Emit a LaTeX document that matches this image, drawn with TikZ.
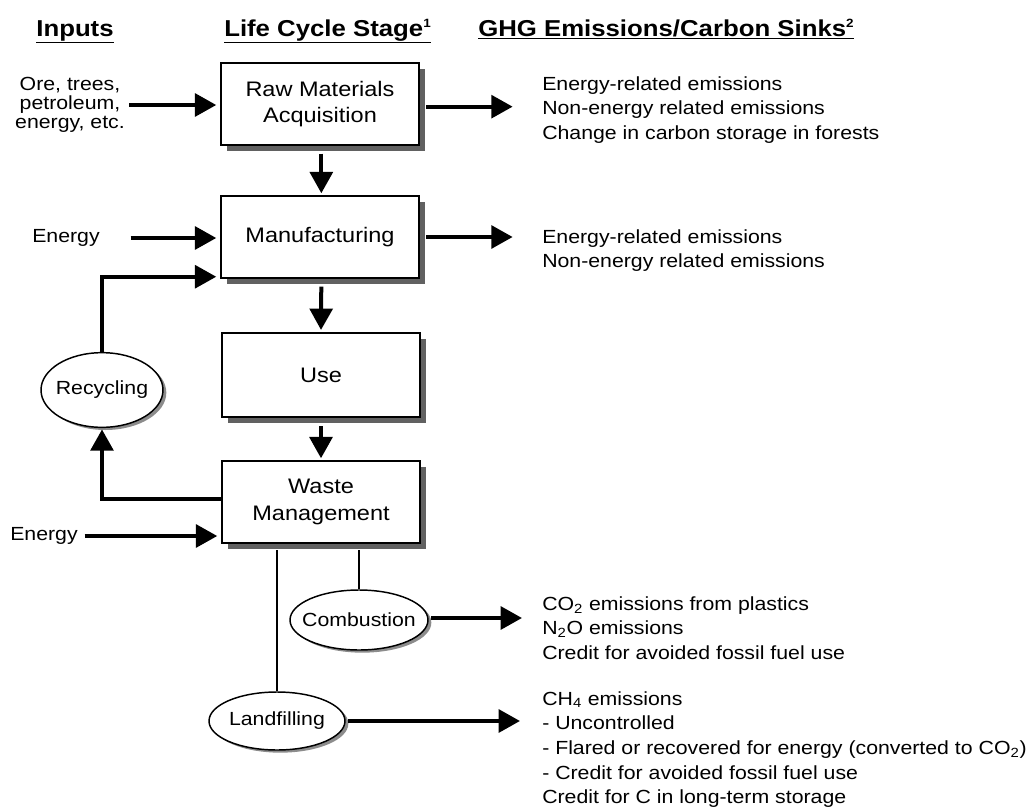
\documentclass[tikz,border=0pt]{standalone}
\usepackage{fontspec}
\setmainfont{Liberation Sans}[FakeStretch=1.12]
\usetikzlibrary{arrows.meta,shapes.geometric,shadows}
\tikzset{
  stagebox/.style={draw, line width=1.6pt, fill=white, minimum width=148pt, minimum height=61pt,
    inner sep=0pt, align=center, font=\fontsize{15.75}{20}\selectfont,
    drop shadow={shadow xshift=4.5pt, shadow yshift=-4.5pt, fill=black!62, opacity=1}},
  proc/.style={draw, ellipse, line width=1.1pt, fill=white, inner sep=0pt,
    drop shadow={shadow xshift=2.5pt, shadow yshift=-2pt, fill=black!45, opacity=1}},
  txt/.style={inner sep=0pt, font=\fontsize{14.25}{18.5}\selectfont, align=left},
  hdr/.style={inner sep=0pt, font=\bfseries\fontsize{17.25}{20}\selectfont},
  arr/.style={line width=3pt, -{Triangle[length=16pt,width=17pt]}},
  thinline/.style={line width=1.5pt},
}
\begin{document}
\begin{tikzpicture}[x=0.75pt,y=-0.75pt]
\useasboundingbox (0,0) rectangle (1026,807);

% headers
\node[hdr, anchor=base] (h1) at (75,36) {\underline{Inputs}};
\node[hdr, anchor=base west] (h2) at (224,36) {\underline{Life Cycle Stage\textsuperscript{\fontsize{9}{9}\selectfont 1}}};
\node[hdr, anchor=base west] (h3) at (478,36) {\underline{GHG Emissions/Carbon Sinks\textsuperscript{\fontsize{9}{9}\selectfont 2}}};

% stages
\node[stagebox] (b1) at (320,104) {Raw Materials\\Acquisition};
\node[stagebox] (b2) at (320,237) {Manufacturing};
\node[stagebox, minimum height=63pt] (b3) at (321,375) {Use};
\node[stagebox] (b4) at (321,502) {Waste\\Management};

% processes
\node[proc, minimum width=91.5pt, minimum height=56pt, label={[txt]center:Recycling}] (rec) at (102,390) {};
\node[proc, minimum width=103.5pt, minimum height=45pt, label={[txt]center:Combustion}] (comb) at (359,620) {};
\node[proc, minimum width=102pt, minimum height=43.5pt, label={[txt]center:Landfilling}] (land) at (277,721) {};

% inputs
\node[txt, align=center, font=\fontsize{14.25}{14}\selectfont] (inp) at (70,105) {Ore, trees,\\petroleum,\\energy, etc.};
\node[txt] (en1) at (66,238) {Energy};
\node[txt] (en2) at (44,536) {Energy};

% outputs
\node[txt, anchor=west] (out1) at (542,110) {Energy-related emissions\\Non-energy related emissions\\Change in carbon storage in forests};
\node[txt, anchor=west] (out2) at (542,250.5) {Energy-related emissions\\Non-energy related emissions};
\node[txt, anchor=west] (out3) at (542,628) {CO\textsubscript{2} emissions from plastics\\N\textsubscript{2}O emissions\\Credit for avoided fossil fuel use};
\node[txt, anchor=west] (out4) at (542,749.5) {CH\textsubscript{4} emissions\\- Uncontrolled\\- Flared or recovered for energy (converted to CO\textsubscript{2})\\- Credit for avoided fossil fuel use\\Credit for C in long-term storage};

% connectors
\draw[arr, shorten <=3pt, shorten >=3pt] (inp.east) -- (inp.east -| b1.west);
\draw[arr, shorten <=5pt, shorten >=22pt] ([yshift=-2pt]b1.east) -- ([yshift=-2pt]b1.east -| out1.west);
\draw[arr, shorten <=6pt, shorten >=1.5pt] ([xshift=1pt]b1.south) -- ([xshift=1pt]b2.north);
\draw[arr, shorten <=23pt, shorten >=3pt] (en1.east) -- (en1.east -| b2.west);
\draw[arr, shorten >=3pt] (rec.north) |- ([yshift=1.5pt]b2.south west);
\draw[arr, shorten <=5pt, shorten >=22pt] (b2.east) -- (b2.east -| out2.west);
\draw[arr, shorten <=6pt, shorten >=1.5pt] ([xshift=1pt]b2.south) -- ([xshift=0pt]b3.north);
\draw[arr, shorten <=6pt, shorten >=1.5pt] (b3.south) -- (b4.north);
\draw[arr, shorten >=1pt] ([yshift=2.6pt]b4.west) -| (rec.south);
\draw[arr, shorten <=5pt, shorten >=3pt] (en2.east) -- (en2.east -| b4.west);
\draw[thinline, shorten <=5pt] (b4.south -| comb.north) -- (comb.north);
\draw[thinline, shorten <=5pt] (b4.south -| land.north) -- (land.north);
\draw[arr, shorten <=2pt, shorten >=15pt] ([yshift=1.5pt]comb.east) -- ([yshift=1.5pt]comb.east -| out3.west);
\draw[arr, shorten <=2pt, shorten >=16.5pt] (land.east) -- (land.east -| out4.west);
\end{tikzpicture}
\end{document}
